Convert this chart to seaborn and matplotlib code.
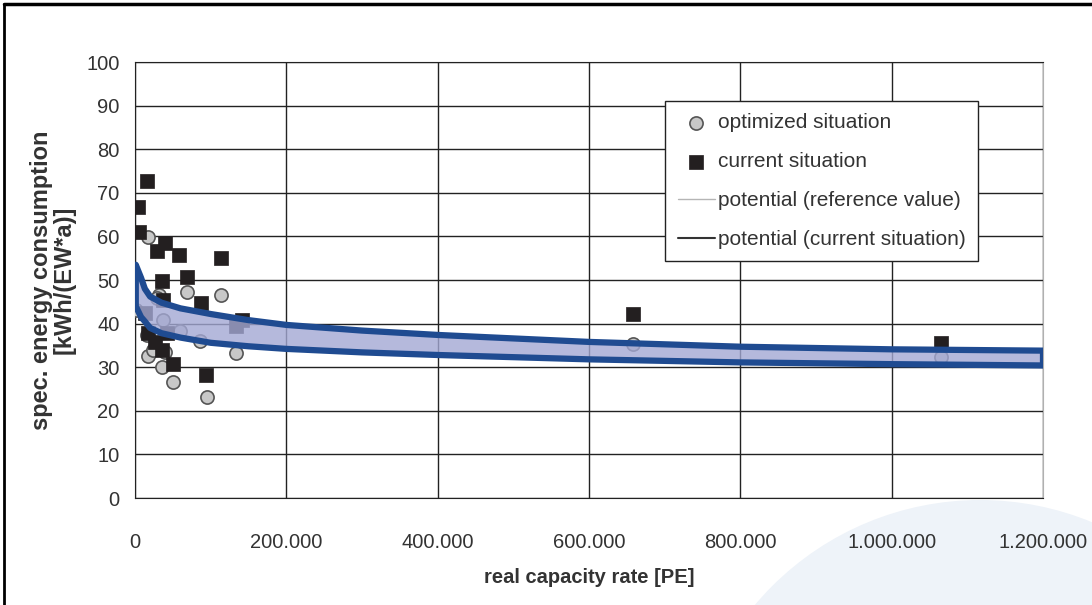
import matplotlib
matplotlib.use('Agg')
import matplotlib.pyplot as plt
import matplotlib.patches as mpatches
from matplotlib.lines import Line2D
from matplotlib.ticker import FuncFormatter
import seaborn as sns
import pandas as pd
import numpy as np

# measured points: real capacity rate [PE] vs spec. energy consumption
current_x = [16300, 4400, 5300, 39600, 28600, 58600, 113700, 35200, 68300, 86800, 141000,
             134000, 37400, 13200, 17600, 26400, 35200, 50600, 93800, 41900, 658000, 1065000]
current_y = [72.8, 66.8, 60.9, 58.4, 56.7, 55.7, 55.0, 49.8, 50.8, 44.8, 40.8,
             39.5, 45.4, 42.4, 37.8, 35.8, 33.9, 30.7, 28.2, 37.8, 42.2, 35.6]

optimized_x = [17600, 68300, 113000, 1300, 36600, 59500, 15400, 85900, 134000, 17600, 35200,
               50600, 94800, 39600, 32000, 28600, 24000, 658000, 1065000]
optimized_y = [59.8, 47.3, 46.6, 43.1, 40.8, 38.4, 37.4, 35.9, 33.3, 32.6, 30.0,
               26.7, 23.1, 33.6, 46.5, 45.8, 34.0, 35.3, 32.3]

# potential curves (band)
band_x = [1000, 8000, 13000, 20000, 35000, 60000, 100000, 150000, 200000, 300000,
          400000, 600000, 800000, 1000000, 1200000]
pot_current = [53.5, 50.5, 48.0, 46.2, 44.8, 43.5, 42.2, 40.8, 39.7, 38.4,
               37.4, 35.8, 34.7, 34.1, 33.8]
pot_reference = [44.0, 41.5, 40.5, 39.0, 37.8, 36.8, 35.6, 34.8, 34.2, 33.4,
                 32.8, 31.8, 31.1, 30.7, 30.4]

x_ticks = [0, 200000, 400000, 600000, 800000, 1000000, 1200000]
y_ticks = list(range(0, 101, 10))

sns.set_style('white')
plt.rcParams['font.family'] = ['Liberation Sans', 'DejaVu Sans']

fig = plt.figure(figsize=(10.92, 6.05), dpi=100)
ax = fig.add_axes([135 / 1092, 107 / 605, 908 / 1092, 436 / 605])
ax.set_zorder(1)
ax.patch.set_alpha(0)

# light decorative circle in the lower right corner
fig.patches.append(mpatches.Ellipse((980 / 1092, -189 / 605), 2 * 294 / 1092, 2 * 294 / 605,
                                    transform=fig.transFigure, facecolor='#eef3f9',
                                    edgecolor='none', zorder=-5))
# white behind the plotting area
fig.patches.append(mpatches.Rectangle((135 / 1092, 107 / 605), 908 / 1092, 436 / 605,
                                      transform=fig.transFigure, facecolor='white',
                                      edgecolor='none', zorder=-4))
# figure frame
fig.add_artist(Line2D([4 / 1092, 4 / 1092], [0, 1 - 4 / 605], transform=fig.transFigure,
                      color='black', lw=2))
fig.add_artist(Line2D([4 / 1092, 1], [1 - 4 / 605, 1 - 4 / 605], transform=fig.transFigure,
                      color='black', lw=2.5))

df_opt = pd.DataFrame({'x': optimized_x, 'y': optimized_y})
df_cur = pd.DataFrame({'x': current_x, 'y': current_y})
df_band = pd.DataFrame({'x': band_x, 'ref': pot_reference, 'cur': pot_current})

sns.scatterplot(data=df_opt, x='x', y='y', ax=ax, marker='o', s=90, color='#c8c8c8',
                edgecolor='#555555', linewidth=1.2, zorder=3, label='optimized situation')
sns.scatterplot(data=df_cur, x='x', y='y', ax=ax, marker='s', s=105, color='#231f20',
                edgecolor='#231f20', linewidth=0.5, zorder=3, label='current situation')
sns.lineplot(data=df_band, x='x', y='ref', ax=ax, color='#b5b5b5', lw=1, zorder=2,
             label='potential (reference value)')
sns.lineplot(data=df_band, x='x', y='cur', ax=ax, color='#333333', lw=1.5, zorder=2,
             label='potential (current situation)')

poly_x = np.concatenate([band_x, band_x[::-1]])
poly_y = np.concatenate([pot_current, pot_reference[::-1]])
ax.fill(poly_x, poly_y, facecolor=(0.64, 0.66, 0.83, 0.8), edgecolor='#1f4b91',
        linewidth=4.5, joinstyle='round', zorder=4)

ax.set_xlim(0, 1200000)
ax.set_ylim(0, 100)
ax.set_xticks(x_ticks)
ax.set_yticks(y_ticks)
ax.xaxis.set_major_formatter(FuncFormatter(lambda v, p: f'{int(v):,}'.replace(',', '.')))
ax.grid(True, color='#222222', lw=1)
ax.set_axisbelow(True)
ax.tick_params(axis='both', direction='out', length=6, width=1, color='#222222',
               labelsize=14.5, labelcolor='#333333')
ax.tick_params(axis='x', pad=19)
ax.tick_params(axis='y', pad=5)
for side in ['left', 'bottom', 'top']:
    ax.spines[side].set_color('#222222')
ax.spines['right'].set_color('#b0b0b0')

ax.set_xlabel('real capacity rate [PE]', fontsize=14.5, fontweight='bold',
              color='#333333', labelpad=12)
ax.set_ylabel('spec. energy consumption\n[kWh/(EW*a)]', fontsize=17, fontweight='bold',
              color='#333333', labelpad=8, linespacing=0.95)

leg = ax.legend(loc='upper left', bbox_to_anchor=((665 - 135) / 908, (498 - 101) / 436),
                fontsize=15, frameon=True, fancybox=False, framealpha=1, edgecolor='#222222',
                borderpad=0.6, labelspacing=0.95, handlelength=1.8, handletextpad=0.15,
                borderaxespad=0)
leg.get_frame().set_linewidth(1)
for t in leg.get_texts():
    t.set_color('#333333')

fig.savefig('out.png', dpi=100)
